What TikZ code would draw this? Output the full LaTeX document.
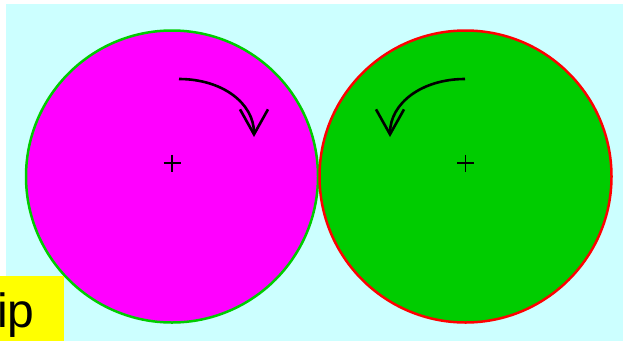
\documentclass[tikz,border=0pt]{standalone}
\usepackage{fontspec}
\setmainfont{Liberation Sans}
\usetikzlibrary{arrows.meta}

\definecolor{bgcyan}{HTML}{CCFFFF}
\definecolor{discgreen}{HTML}{00CC00}
\definecolor{discpink}{HTML}{FF00FF}
\definecolor{tipyellow}{HTML}{FFFF00}

\begin{document}
\begin{tikzpicture}[x=1pt, y=-1pt,
    disc/.style={circle, minimum size=292pt, inner sep=0pt, line width=2.5pt},
    turn/.style={line width=2.6pt, -{Straight Barb[length=25pt, width=28pt, line width=2.6pt]}},
    cross/.style={line width=1.3pt}]
  \useasboundingbox (0,0) rectangle (623,341);
  \fill[bgcyan] (6,4) rectangle (623,341);

  \node[disc, fill=discpink, draw=discgreen] (L) at (172,176.5) {};
  \node[disc, fill=discgreen, draw=red] (R) at (465.5,176.5) {};

  \coordinate (LC) at (172,163);
  \coordinate (RC) at (465.5,163);
  \draw[cross] (LC) ++(-8.5,0) -- ++(17,0);
  \draw[cross] (LC) ++(0,-8.5) -- ++(0,17);
  \draw[cross] (RC) ++(-8.5,0) -- ++(17,0);
  \draw[cross] (RC) ++(0,-8.5) -- ++(0,17);

  % clockwise on the left, counter-clockwise on the right
  \draw[turn] (179,79) .. controls (222,79) and (254,103) .. (254,137);
  \draw[turn] (465,79) .. controls (422,79) and (390,103) .. (390,137);

  \fill[tipyellow] (0,276) rectangle (64,341);
  \node[anchor=base west, inner sep=0pt, font=\fontsize{48}{48}\selectfont] (tip) at (-3,327) {ip};
\end{tikzpicture}
\end{document}
